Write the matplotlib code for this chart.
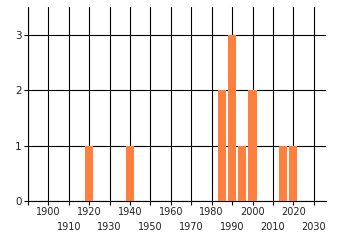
import matplotlib
matplotlib.use('Agg')
import matplotlib.pyplot as plt

years = [1920, 1940, 1985, 1990, 1995, 2000, 2015, 2020]
counts = [1, 1, 2, 3, 1, 2, 1, 1]
upper_ticks = list(range(1900, 2030, 20))
lower_ticks = list(range(1890, 2040, 20))
lower_labels = ['' if d == 1890 else str(d) for d in lower_ticks]

fig = plt.figure(figsize=(3.4, 2.45), dpi=100)
ax = fig.add_axes([28 / 340, 44 / 245, 298 / 340, 194 / 245])

ax.bar(years, counts, width=4, color='#ff7f3f', zorder=3)

ax.set_xlim(1890, 2036)
ax.set_ylim(0, 3.5)
# alternate the decade labels over two rows
ax.set_xticks(upper_ticks)
ax.set_xticklabels([str(d) for d in upper_ticks], fontsize=7, color='#222222')
ax.set_xticks(lower_ticks, minor=True)
ax.set_xticklabels(lower_labels, minor=True, fontsize=7, color='#222222')
ax.set_yticks([0, 1, 2, 3])
ax.set_yticklabels(['0', '1', '2', '3'], fontsize=7.5, color='#222222')
ax.grid(True, which='both', color='black', linewidth=0.8, zorder=0)
ax.tick_params(axis='both', which='both', length=3, width=0.8, color='black', pad=1.5)
ax.tick_params(axis='x', which='minor', pad=12)

for side in ['top', 'right']:
    ax.spines[side].set_visible(False)
for side in ['left', 'bottom']:
    ax.spines[side].set_linewidth(0.8)

fig.savefig('out.png', dpi=100)
